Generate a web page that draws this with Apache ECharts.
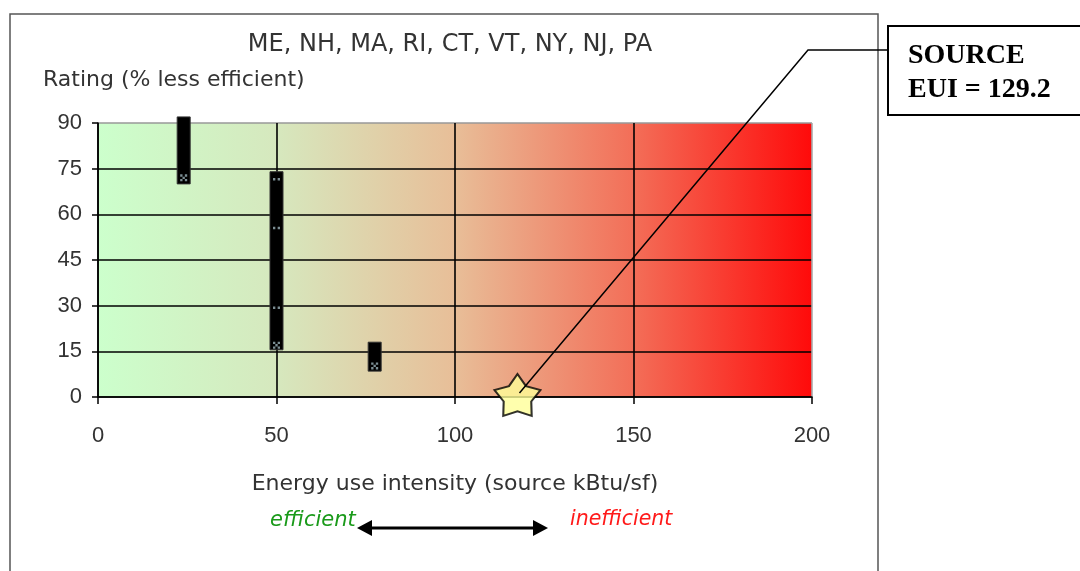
<!DOCTYPE html>
<html><head><meta charset="utf-8">
<script src="https://cdn.jsdelivr.net/npm/echarts@6/dist/echarts.min.js"></script>
<style>html,body{margin:0;padding:0;background:#fff}#c{width:1080px;height:571px}</style>
</head><body><div id="c"></div>
<script>
// ---- data ----
const titleText = 'ME, NH, MA, RI, CT, VT, NY, NJ, PA';
const yName = 'Rating (% less efficient)';
const xName = 'Energy use intensity (source kBtu/sf)';
const rangeX = [24, 50, 77.5];
const rangeLow = [70, 15.5, 8.5];
const rangeHigh = [92, 74, 18];
const dotPoints = [[50, 71.5], [50, 55.5], [50, 29.3]];
const crossPoints = [[24, 72], [50, 17], [77.5, 10.2]];
const starPoint = [117.5, 0];
const sourceEUI = 129.2;

const chart = echarts.init(document.getElementById('c'), null, {renderer: 'canvas'});
const font = '"Liberation Sans", Arial, sans-serif';
const wideFont = '"DejaVu Sans", Verdana, sans-serif';
const rangeData = rangeX.map((x, i) => [x, rangeLow[i], rangeHigh[i]]);
const starPath = 'path://M0,-10L3.5,-4.8L9.51,-3.09L5.7,1.85L5.88,8.09L0,6.1L-5.88,8.09L-5.7,1.85L-9.51,-3.09L-3.5,-4.8Z';

chart.setOption({
  animation: false,
  title: [
    {text: titleText, left: 445, top: 28, textAlign: 'center',
     textStyle: {fontFamily: wideFont, fontSize: 24, fontWeight: 'normal', color: '#333'}},
    {text: yName, left: 38, top: 64,
     textStyle: {fontFamily: wideFont, fontSize: 22, fontWeight: 'normal', color: '#333'}}
  ],
  grid: {left: 98, right: 268, top: 123, bottom: 174, show: true, borderWidth: 0,
    backgroundColor: new echarts.graphic.LinearGradient(0, 0, 1, 0, [
      {offset: 0, color: 'rgb(204,255,204)'},
      {offset: 0.25, color: 'rgb(214,232,190)'},
      {offset: 0.5, color: 'rgb(232,190,152)'},
      {offset: 0.75, color: 'rgb(243,110,88)'},
      {offset: 1, color: 'rgb(255,10,10)'}
    ])},
  xAxis: {type: 'value', min: 0, max: 200, interval: 50,
    name: xName, nameLocation: 'middle', nameGap: 76,
    nameTextStyle: {fontFamily: wideFont, fontSize: 22, color: '#333'},
    axisLine: {show: true, lineStyle: {color: '#000', width: 1.5}},
    axisTick: {show: true, length: 7, lineStyle: {color: '#000', width: 1.5}},
    axisLabel: {fontFamily: font, fontSize: 22, color: '#333', margin: 28},
    splitLine: {show: true, lineStyle: {color: ['#000', '#000', '#000', '#000', '#aaa'], width: 1.6}}
  },
  yAxis: {type: 'value', min: 0, max: 90, interval: 15,
    axisLine: {show: true, lineStyle: {color: '#000', width: 1.5}},
    axisTick: {show: true, length: 6, lineStyle: {color: '#000', width: 1.5}},
    axisLabel: {fontFamily: font, fontSize: 22, color: '#333', margin: 16},
    splitLine: {show: true, lineStyle: {color: ['#000', '#000', '#000', '#000', '#000', '#000', '#999'], width: 1.6}}
  },
  series: [
    {type: 'custom', data: rangeData, clip: false, z: 3,
     renderItem: function (params, api) {
       const x = api.value(0), lo = api.value(1), hi = api.value(2);
       const p1 = api.coord([x, hi]), p2 = api.coord([x, lo]);
       return {type: 'rect', shape: {x: p1[0] - 6.5, y: p1[1], width: 13, height: p2[1] - p1[1]},
               style: {fill: '#000', stroke: '#333', lineWidth: 1}};
     }},
    {type: 'scatter', data: dotPoints, z: 4, symbol: 'path://M0,0h2v2h-2zM4,0h2v2h-2z',
     symbolSize: [7, 2.5], itemStyle: {color: '#9ab0b8'}},
    {type: 'scatter', data: crossPoints, z: 4,
     symbol: 'path://M0,0h2v2h-2zM4,0h2v2h-2zM2,2h2v2h-2zM0,4h2v2h-2zM4,4h2v2h-2z',
     symbolSize: [7, 7], itemStyle: {color: '#9ab0b8'}},
    {type: 'scatter', data: [starPoint], z: 5, clip: false, symbol: starPath,
     symbolSize: [46, 42], symbolOffset: [0, -2],
     itemStyle: {color: '#ffff99', borderColor: '#000', borderWidth: 2}}
  ]
});

const sp = chart.convertToPixel({gridIndex: 0}, starPoint);
chart.setOption({
  graphic: [
    {type: 'rect', shape: {x: 10, y: 14, width: 868, height: 600}, silent: true, z: -10,
     style: {fill: 'none', stroke: '#555', lineWidth: 1.5}},
    {type: 'polyline', z: 100, shape: {points: [[sp[0] + 2, sp[1] - 4], [808, 50], [888, 50]]},
     style: {stroke: '#000', lineWidth: 1.5, fill: 'none'}},
    {type: 'rect', z: 100, shape: {x: 888, y: 26, width: 220, height: 89},
     style: {fill: '#fff', stroke: '#000', lineWidth: 2}},
    {type: 'text', z: 101, left: 908, top: 42,
     style: {text: 'SOURCE', font: 'bold 28px "Liberation Serif", "Times New Roman", serif', fill: '#000'}},
    {type: 'text', z: 101, left: 908, top: 76,
     style: {text: 'EUI = ' + sourceEUI, font: 'bold 28px "Liberation Serif", "Times New Roman", serif', fill: '#000'}},
    {type: 'text', left: 270, top: 510,
     style: {text: 'efficient', font: 'italic 21px "DejaVu Sans", Verdana, sans-serif', fill: '#1a9a1a'}},
    {type: 'text', left: 570, top: 510,
     style: {text: 'inefficient', font: 'italic 20.5px "DejaVu Sans", Verdana, sans-serif', fill: '#ff1a1a'}},
    {type: 'line', shape: {x1: 368, y1: 528, x2: 537, y2: 528}, style: {stroke: '#000', lineWidth: 3}},
    {type: 'polygon', shape: {points: [[357, 528], [372, 520], [372, 536]]}, style: {fill: '#000'}},
    {type: 'polygon', shape: {points: [[548, 528], [533, 520], [533, 536]]}, style: {fill: '#000'}}
  ]
});
</script></body></html>
